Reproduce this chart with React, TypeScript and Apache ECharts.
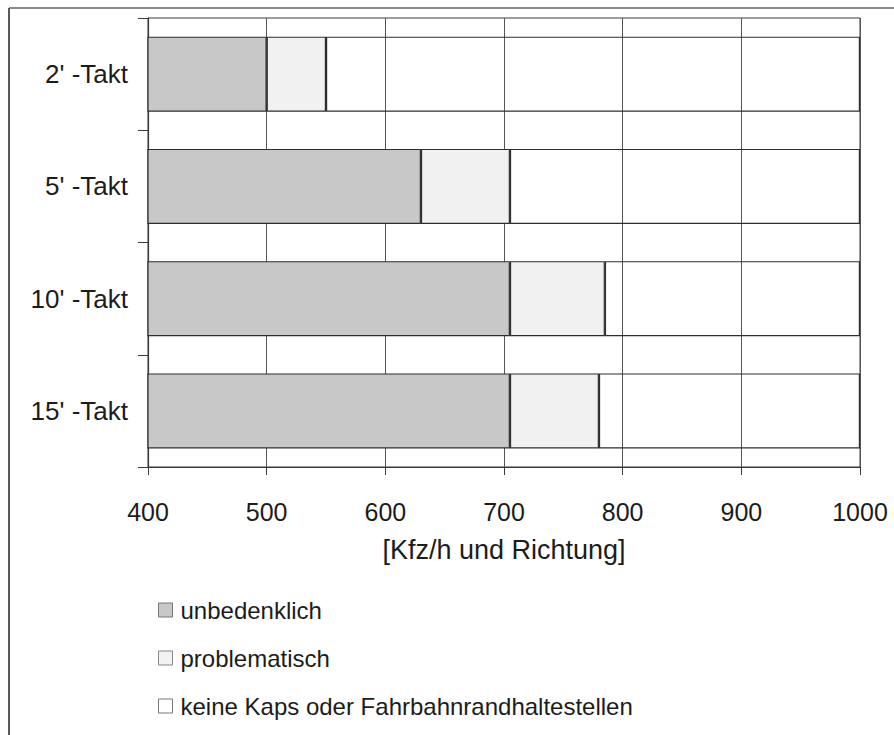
import React, { useEffect, useRef } from "react";
import * as echarts from "echarts";

const categories = ["2' -Takt", "5' -Takt", "10' -Takt", "15' -Takt"];
const unbedenklichEnd = [500, 630, 705, 705];
const problematischEnd = [550, 705, 785, 780];
const axisMax = 1000;
const axisMin = 400;
const seriesNames = [
  "unbedenklich",
  "problematisch",
  "keine Kaps oder Fahrbahnrandhaltestellen",
];

const FONT = "'Liberation Sans', Arial, sans-serif";
const TXT = "#1c1c1c";
const LINE = "#3a3a3a";

export default function App() {
  const ref = useRef<HTMLDivElement>(null);
  useEffect(() => {
    if (!ref.current) return;
    const chart = echarts.init(ref.current, undefined, { renderer: "svg" });
    const probDelta = problematischEnd.map((v, i) => v - unbedenklichEnd[i]);
    const restDelta = problematischEnd.map((v) => axisMax - v);
    chart.setOption({
      animation: false,
      backgroundColor: "#ffffff",
      textStyle: { fontFamily: FONT },
      grid: {
        left: 148,
        right: 34,
        top: 18,
        bottom: 268,
        show: true,
        borderColor: LINE,
        borderWidth: 1,
      },
      xAxis: {
        type: "value",
        min: axisMin,
        max: axisMax,
        interval: 100,
        name: "[Kfz/h und Richtung]",
        nameLocation: "middle",
        nameGap: 69,
        nameTextStyle: { fontSize: 27, color: TXT, fontFamily: FONT },
        axisLine: { show: true, lineStyle: { color: LINE, width: 1.2 } },
        axisTick: { show: true, length: 8, lineStyle: { color: LINE } },
        axisLabel: {
          fontSize: 25,
          color: TXT,
          margin: 32,
          fontFamily: FONT,
          formatter: (v: number) => String(v),
        },
        splitLine: { show: true, lineStyle: { color: "#555", width: 1 } },
      },
      yAxis: {
        type: "category",
        data: categories,
        inverse: true,
        axisLine: { show: true, lineStyle: { color: LINE, width: 1.2 } },
        axisTick: { show: true, length: 10, lineStyle: { color: LINE } },
        axisLabel: { fontSize: 26, color: TXT, margin: 20, fontFamily: FONT },
        splitLine: { show: false },
      },
      legend: {
        orient: "vertical",
        left: 153,
        top: 593,
        itemWidth: 14,
        itemHeight: 14,
        itemGap: 24,
        icon: "rect",
        selectedMode: false,
        textStyle: { fontSize: 24, color: TXT, fontFamily: FONT, padding: [0, 0, 0, 3] },
        data: [
          { name: seriesNames[0], itemStyle: { color: "#c8c8c8", borderColor: "#777", borderWidth: 1 } },
          { name: seriesNames[1], itemStyle: { color: "#f2f2f2", borderColor: "#888", borderWidth: 1 } },
          { name: seriesNames[2], itemStyle: { color: "#ffffff", borderColor: "#777", borderWidth: 1 } },
        ],
      },
      graphic: [
        { type: "line", shape: { x1: 9, y1: 8, x2: 894, y2: 8 }, style: { stroke: "#8a8a8a", lineWidth: 2 } },
        { type: "line", shape: { x1: 9, y1: 8, x2: 9, y2: 735 }, style: { stroke: "#5a5a5a", lineWidth: 2 } },
      ],
      series: [
        {
          name: seriesNames[0],
          type: "bar",
          stack: "s",
          barWidth: 75,
          data: unbedenklichEnd,
          itemStyle: { color: "#c8c8c8", borderColor: "#2e2e2e", borderWidth: 1.2 },
          z: 3,
        },
        {
          name: seriesNames[1],
          type: "bar",
          stack: "s",
          barWidth: 75,
          data: probDelta,
          itemStyle: { color: "#f1f1f1", borderColor: "#2e2e2e", borderWidth: 1.2 },
          z: 3,
        },
        {
          name: seriesNames[2],
          type: "bar",
          stack: "s",
          barWidth: 75,
          data: restDelta,
          itemStyle: { color: "rgba(255,255,255,0)", borderColor: "#2e2e2e", borderWidth: 1.2 },
          z: 3,
        },
      ],
    });
    return () => chart.dispose();
  }, []);
  return (
    <div
      ref={ref}
      style={{ position: "fixed", left: 0, top: 0, width: 894, height: 735, background: "#fff" }}
    />
  );
}
